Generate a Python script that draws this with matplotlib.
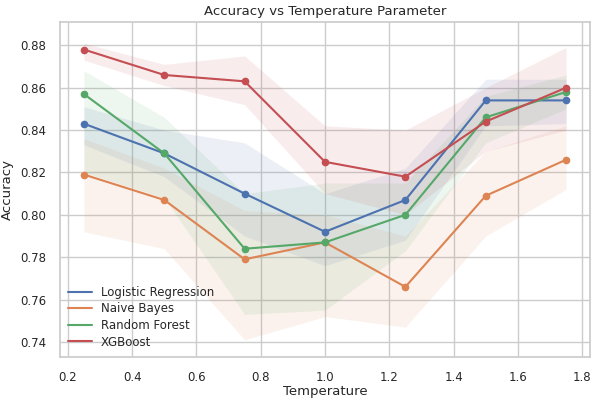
import numpy as np
import matplotlib.pyplot as plt
import seaborn as sns

sns.set_theme(style="whitegrid")
plt.rcParams['font.family'] = ['DejaVu Sans']

temps = [0.25, 0.5, 0.75, 1.0, 1.25, 1.5, 1.75]
models = ["Logistic Regression", "Naive Bayes", "Random Forest", "XGBoost"]

lr_mean = [0.843, 0.829, 0.810, 0.792, 0.807, 0.854, 0.854]
lr_lo = [0.833, 0.818, 0.790, 0.776, 0.788, 0.842, 0.843]
lr_hi = [0.851, 0.840, 0.834, 0.810, 0.822, 0.864, 0.864]

nb_mean = [0.819, 0.807, 0.779, 0.787, 0.766, 0.809, 0.826]
nb_lo = [0.792, 0.784, 0.741, 0.752, 0.747, 0.790, 0.812]
nb_hi = [0.836, 0.822, 0.802, 0.800, 0.790, 0.830, 0.842]

rf_mean = [0.857, 0.829, 0.784, 0.787, 0.800, 0.846, 0.858]
rf_lo = [0.820, 0.808, 0.753, 0.755, 0.783, 0.834, 0.850]
rf_hi = [0.868, 0.846, 0.810, 0.815, 0.815, 0.856, 0.866]

xgb_mean = [0.878, 0.866, 0.863, 0.825, 0.818, 0.844, 0.860]
xgb_lo = [0.873, 0.861, 0.852, 0.810, 0.800, 0.830, 0.840]
xgb_hi = [0.881, 0.871, 0.875, 0.842, 0.840, 0.860, 0.879]

means = [lr_mean, nb_mean, rf_mean, xgb_mean]
lows = [lr_lo, nb_lo, rf_lo, xgb_lo]
highs = [lr_hi, nb_hi, rf_hi, xgb_hi]
colors = sns.color_palette("deep")[:4]

fig, ax = plt.subplots(figsize=(5.92, 4.0), dpi=100)
fig.subplots_adjust(left=0.101, right=0.997, top=0.945, bottom=0.108)

for name, m, lo, hi, c in zip(models, means, lows, highs, colors):
    ax.fill_between(temps, lo, hi, color=c, alpha=0.1, linewidth=0)
    ax.plot(temps, m, color=c, label=name, linewidth=1.5)
    ax.plot(temps, m, 'o', color=c, markersize=4.5)

ax.set_xlim(0.175, 1.825)
ax.set_ylim(0.733, 0.891)
ax.set_xticks([0.2, 0.4, 0.6, 0.8, 1.0, 1.2, 1.4, 1.6, 1.8])
ax.set_yticks([0.74, 0.76, 0.78, 0.80, 0.82, 0.84, 0.86, 0.88])
ax.tick_params(labelsize=8.5, pad=4)
ax.set_xlabel("Temperature", fontsize=9.5, labelpad=1)
ax.set_ylabel("Accuracy", fontsize=9.5, labelpad=4)
ax.set_title("Accuracy vs Temperature Parameter", fontsize=9.5, pad=5)
ax.legend(loc="lower left", frameon=False, fontsize=8.5, handlelength=2.0,
          labelspacing=0.3, borderaxespad=0.3)

fig.savefig("out.png", dpi=100)
